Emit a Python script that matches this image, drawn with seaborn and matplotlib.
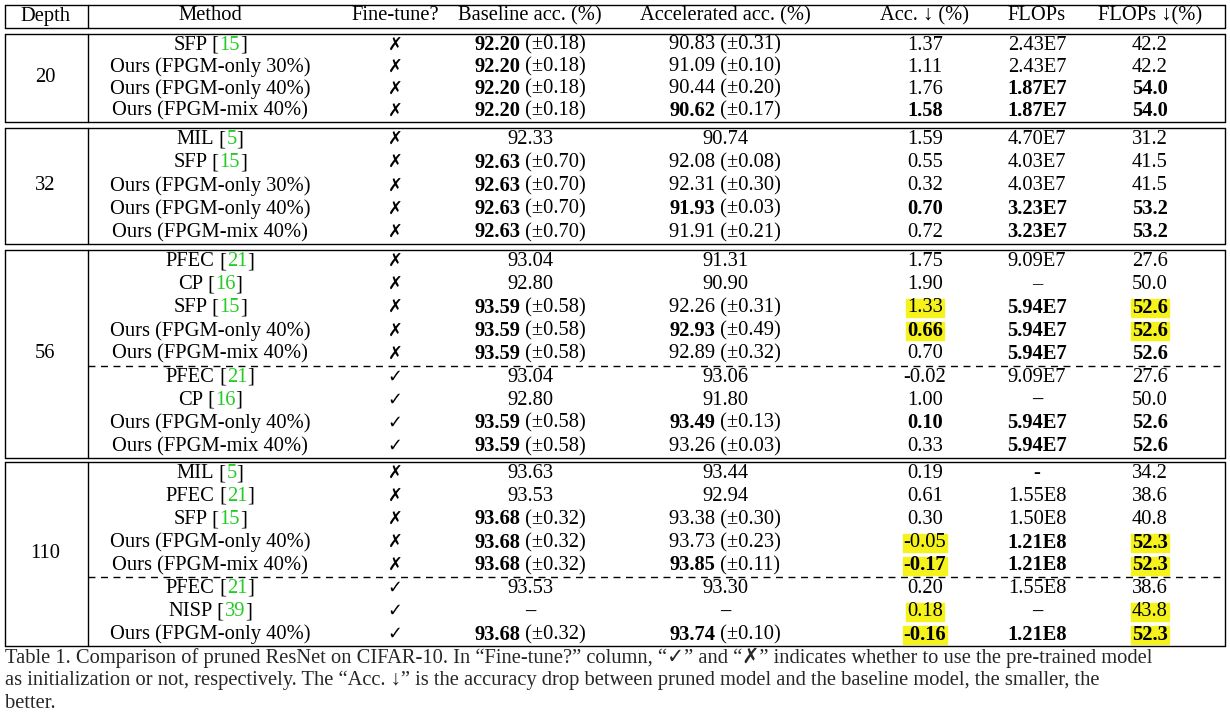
import matplotlib
matplotlib.use("Agg")
import matplotlib.pyplot as plt
import seaborn as sns
from matplotlib.patches import Rectangle

sns.set_theme(style="white")
plt.rcParams['font.family'] = ['Liberation Serif', 'DejaVu Sans']

headers = ["Depth", "Method", "Fine-tune?", "Baseline acc. (%)", "Accelerated acc. (%)",
           "Acc. ↓ (%)", "FLOPs", "FLOPs ↓(%)"]
col_x = [45, 210, 395, 530, 725, 925, 1037, 1150]

depths = ["20", "32", "56", "110"]
methods = [
    [("SFP", "15"), ("Ours (FPGM-only 30%)", ""), ("Ours (FPGM-only 40%)", ""), ("Ours (FPGM-mix 40%)", "")],
    [("MIL", "5"), ("SFP", "15"), ("Ours (FPGM-only 30%)", ""), ("Ours (FPGM-only 40%)", ""), ("Ours (FPGM-mix 40%)", "")],
    [("PFEC", "21"), ("CP", "16"), ("SFP", "15"), ("Ours (FPGM-only 40%)", ""), ("Ours (FPGM-mix 40%)", ""),
     ("PFEC", "21"), ("CP", "16"), ("Ours (FPGM-only 40%)", ""), ("Ours (FPGM-mix 40%)", "")],
    [("MIL", "5"), ("PFEC", "21"), ("SFP", "15"), ("Ours (FPGM-only 40%)", ""), ("Ours (FPGM-mix 40%)", ""),
     ("PFEC", "21"), ("NISP", "39"), ("Ours (FPGM-only 40%)", "")],
]
finetune = [["✗"] * 4, ["✗"] * 5, ["✗"] * 5 + ["✓"] * 4, ["✗"] * 5 + ["✓"] * 3]
baseline = [
    ["**92.20** (±0.18)"] * 4,
    ["92.33"] + ["**92.63** (±0.70)"] * 4,
    ["93.04", "92.80"] + ["**93.59** (±0.58)"] * 3 + ["93.04", "92.80"] + ["**93.59** (±0.58)"] * 2,
    ["93.63", "93.53"] + ["**93.68** (±0.32)"] * 3 + ["93.53", "**–**", "**93.68** (±0.32)"],
]
accel = [
    ["90.83 (±0.31)", "91.09 (±0.10)", "90.44 (±0.20)", "**90.62** (±0.17)"],
    ["90.74", "92.08 (±0.08)", "92.31 (±0.30)", "**91.93** (±0.03)", "91.91 (±0.21)"],
    ["91.31", "90.90", "92.26 (±0.31)", "**92.93** (±0.49)", "92.89 (±0.32)",
     "93.06", "91.80", "**93.49** (±0.13)", "93.26 (±0.03)"],
    ["93.44", "92.94", "93.38 (±0.30)", "93.73 (±0.23)", "**93.85** (±0.11)",
     "93.30", "**–**", "**93.74** (±0.10)"],
]
acc_drop = [
    ["1.37", "1.11", "1.76", "**1.58**"],
    ["1.59", "0.55", "0.32", "**0.70**", "0.72"],
    ["1.75", "1.90", "1.33", "**0.66**", "0.70", "-0.02", "1.00", "**0.10**", "0.33"],
    ["0.19", "0.61", "0.30", "-0.05", "**-0.17**", "0.20", "0.18", "**-0.16**"],
]
flops = [
    ["2.43E7", "2.43E7", "**1.87E7**", "**1.87E7**"],
    ["4.70E7", "4.03E7", "4.03E7", "**3.23E7**", "**3.23E7**"],
    ["9.09E7", "–", "**5.94E7**", "**5.94E7**", "**5.94E7**", "9.09E7", "**–**", "**5.94E7**", "**5.94E7**"],
    ["-", "1.55E8", "1.50E8", "**1.21E8**", "**1.21E8**", "1.55E8", "**–**", "**1.21E8**"],
]
flops_drop = [
    ["42.2", "42.2", "**54.0**", "**54.0**"],
    ["31.2", "41.5", "41.5", "**53.2**", "**53.2**"],
    ["27.6", "50.0", "**52.6**", "**52.6**", "**52.6**", "27.6", "50.0", "**52.6**", "**52.6**"],
    ["34.2", "38.6", "40.8", "**52.3**", "**52.3**", "38.6", "43.8", "**52.3**"],
]
highlights = [(2, 2, 5), (2, 2, 7), (2, 3, 5), (2, 3, 7),
              (3, 3, 5), (3, 3, 7), (3, 4, 5), (3, 4, 7),
              (3, 6, 5), (3, 6, 7), (3, 7, 5), (3, 7, 7)]
dashed_after = [None, None, 4, 4]

caption = [
    "Table 1. Comparison of pruned ResNet on CIFAR-10. In “Fine-tune?” column, “✓” and “✗” indicates whether to use the pre-trained model",
    "as initialization or not, respectively. The “Acc. ↓” is the accuracy drop between pruned model and the baseline model, the smaller, the",
    "better.",
]

FS = 14.8
fig = plt.figure(figsize=(12.3, 7.13), dpi=100)
ax = fig.add_axes([0, 0, 1, 1])
ax.set_xlim(0, 1230)
ax.set_ylim(713, 0)
ax.axis("off")
r = fig.canvas.get_renderer()


def parse(s):
    segs = []
    for i, p in enumerate(s.split("**")):
        if p:
            segs.append((p, "bold" if i % 2 else "normal", "black"))
    return segs


def draw_segs(x, y, segs, ha="center", fs=FS):
    texts = [ax.text(0, y, t, fontsize=fs, fontweight=w, color=c, va="center", ha="left", zorder=3)
             for t, w, c in segs]
    widths = [t.get_window_extent(r).width for t in texts]
    total = sum(widths)
    start = x - total / 2 if ha == "center" else x
    for t, wd in zip(texts, widths):
        t.set_x(start)
        start += wd
    return x - total / 2, total


def hline(y, x0=5, x1=1225, ls="-"):
    ax.plot([x0, x1], [y, y], color="black", lw=1.0, ls=ls, zorder=2)


def vlines(y0, y1):
    for xv in (5, 88, 1225):
        ax.plot([xv, xv], [y0, y1], color="black", lw=1.0, zorder=2)


hline(5); hline(28); vlines(5, 28)
for h, x in zip(headers, col_x):
    draw_segs(x, 16, [(h, "normal", "black")])

g_top = [34, 128, 250, 462]
g_bot = [122, 244, 458, 646]
for g in range(4):
    n = len(methods[g])
    top, bottom = g_top[g], g_bot[g]
    rh = (bottom - top) / n
    hline(top); hline(bottom); vlines(top, bottom)
    draw_segs(col_x[0], (top + bottom) / 2, [(depths[g], "normal", "black")])
    if dashed_after[g] is not None:
        hline(top + (dashed_after[g] + 1) * rh, x0=88, ls=(0, (5, 4)))
    for i in range(n):
        y = top + (i + 0.5) * rh
        name, cite = methods[g][i]
        segs = [(name, "normal", "black")]
        if cite:
            segs += [(" [", "normal", "black"), (cite, "normal", "#22cc22"), ("]", "normal", "black")]
        draw_segs(col_x[1], y, segs)
        draw_segs(col_x[2], y, [(finetune[g][i], "bold", "black")], fs=FS - 2)
        cells = [baseline[g][i], accel[g][i], acc_drop[g][i], flops[g][i], flops_drop[g][i]]
        for k, c in enumerate(cells):
            col = k + 3
            x0, w = draw_segs(col_x[col], y, parse(c))
            if (g, i, col) in highlights:
                ax.add_patch(Rectangle((x0 - 1, y - 9), w + 2, 18, color="#f5f21c", zorder=1))

for j, line in enumerate(caption):
    ax.text(5, 658 + j * 22.5, line, fontsize=FS, va="center", ha="left")

fig.savefig("out.png", dpi=100)
